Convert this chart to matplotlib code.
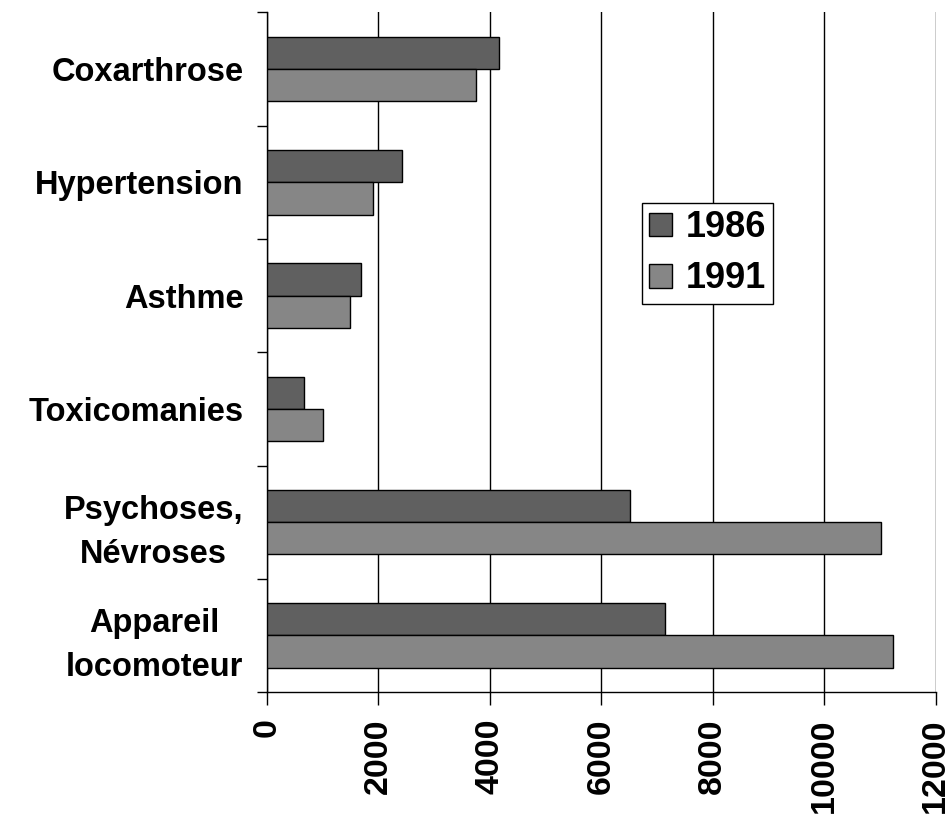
import matplotlib.pyplot as plt
import numpy as np

plt.rcParams['font.family'] = ['Liberation Sans', 'DejaVu Sans']
plt.rcParams['font.weight'] = 'bold'

# categories, bottom to top
categories = ['Appareil\nlocomoteur', 'Psychoses,\nNévroses', 'Toxicomanies',
              'Asthme', 'Hypertension', 'Coxarthrose']
values_1986 = [7150, 6520, 670, 1690, 2430, 4160]
values_1991 = [11240, 11020, 1000, 1490, 1905, 3750]
years = ['1986', '1991']
colors = ['#606060', '#868686']

fig = plt.figure(figsize=(9.47, 8.23), dpi=100)
ax = fig.add_axes([0.282, 0.159, 0.706, 0.826])

y = np.arange(len(categories))
h = 0.285
ax.barh(y + h / 2, values_1986, height=h, color=colors[0], edgecolor='black',
        linewidth=1, label=years[0], zorder=3)
ax.barh(y - h / 2, values_1991, height=h, color=colors[1], edgecolor='black',
        linewidth=1, label=years[1], zorder=3)

ax.set_xlim(0, 12000)
ax.set_ylim(-0.5, len(categories) - 0.5)
ax.set_xticks(np.arange(0, 12001, 2000))
ax.set_xticklabels([str(v) for v in range(0, 12001, 2000)], rotation=90,
                   fontsize=24.5, fontweight='bold')
ax.xaxis.grid(True, color='black', linewidth=1, zorder=0)

# category ticks sit at group boundaries, labels at group centres
ax.set_yticks(np.arange(-0.5, len(categories), 1.0))
ax.set_yticklabels([])
ax.set_yticks(y, minor=True)
ax.set_yticklabels(categories, minor=True, fontsize=23.5, fontweight='bold',
                   multialignment='center', linespacing=1.55)
ax.tick_params(axis='y', which='minor', length=0, pad=17)
ax.tick_params(axis='y', which='major', direction='out', length=7, width=1)
ax.tick_params(axis='x', direction='out', length=9, width=1, pad=10)

for s in ['top', 'right']:
    ax.spines[s].set_visible(False)
ax.spines['left'].set_linewidth(1)
ax.spines['bottom'].set_linewidth(1)

leg = ax.legend(loc='upper left', bbox_to_anchor=(642 / 947, 1 - 203 / 823),
                bbox_transform=fig.transFigure, fontsize=26, frameon=True,
                fancybox=False, edgecolor='black', framealpha=1,
                handlelength=0.64, handleheight=0.64, handletextpad=0.36,
                borderpad=0.2, labelspacing=0.45, borderaxespad=0)
leg.get_frame().set_linewidth(1)

fig.savefig('out.png', dpi=100)
